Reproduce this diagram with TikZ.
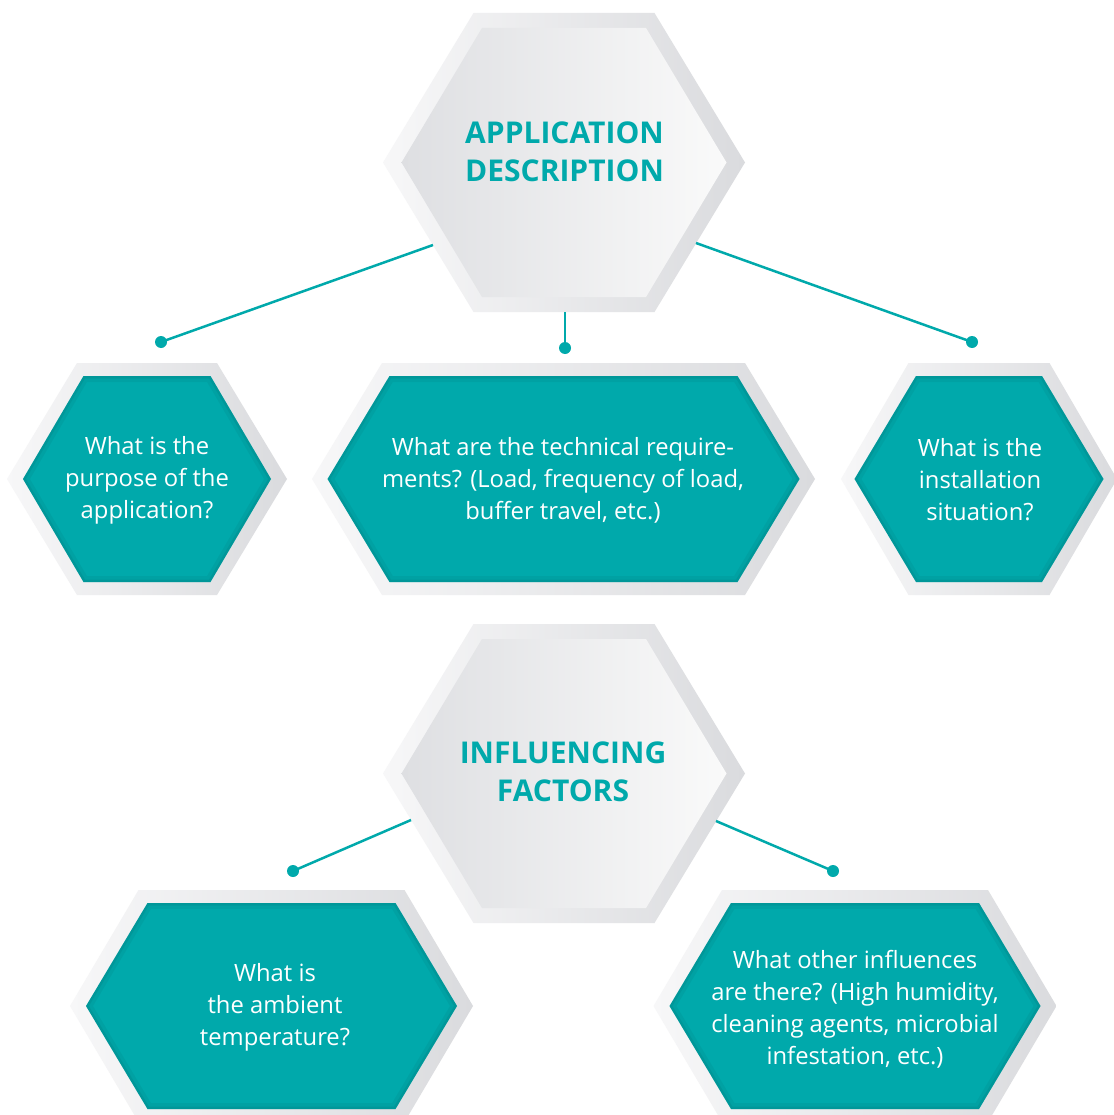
\documentclass[tikz,border=0pt]{standalone}
\usepackage{fontspec}
\setmainfont{Open Sans}
\definecolor{teal1}{RGB}{0,169,171}
\definecolor{tealdk}{RGB}{0,100,102}
\definecolor{frameL}{RGB}{247,247,248}
\definecolor{frameR}{RGB}{218,219,222}
\definecolor{innerL}{RGB}{222,223,226}
\definecolor{innerR}{RGB}{250,250,250}
\newcommand\hexp[5]{({#1-#3},#2) -- ({#1-#4},{#2-#5}) -- ({#1+#4},{#2-#5}) -- ({#1+#3},#2) -- ({#1+#4},{#2+#5}) -- ({#1-#4},{#2+#5}) -- cycle}
\newcommand\grayhex[2]{%
  \shade[left color=frameL,right color=frameR] \hexp{#1}{#2}{181}{90.5}{149.5};
  \shade[left color=innerL,right color=innerR] \hexp{#1}{#2}{162.5}{82}{134.5};
}
\newcommand\tealhex[6]{%
  \shade[left color=frameL,right color=frameR] \hexp{#1}{#2}{#3}{#4}{116};
  \fill[teal1] \hexp{#1}{#2}{#5}{#6}{103};
  \begin{scope}
    \clip \hexp{#1}{#2}{#5}{#6}{103};
    \draw[tealdk, line width=12pt, opacity=0.10] \hexp{#1}{#2}{#5}{#6}{103};
    \draw[tealdk, line width=5pt, opacity=0.15] \hexp{#1}{#2}{#5}{#6}{103};
  \end{scope}
}
\tikzset{
  conn/.style={draw=teal1, line width=2.5pt},
  dotnode/.style={circle, fill=teal1, inner sep=0pt, minimum size=12pt},
  title/.style={font=\bfseries\fontsize{30}{38.5}\selectfont, text=teal1, align=center, inner sep=0pt},
  body/.style={font=\fontsize{23.8}{32}\selectfont, text=white, align=center, inner sep=0pt}
}
\begin{document}
\begin{tikzpicture}[x=1pt,y=-1pt]
\useasboundingbox[fill=white] (0,0) rectangle (1113,1115);
% hexagons
\grayhex{564}{162.5}
\grayhex{564}{773.5}
\tealhex{147}{479}{140}{70}{124}{63.5}
\tealhex{563.5}{479}{251.5}{181.5}{236}{174}
\tealhex{979}{479}{138}{70.5}{124.5}{63}
\tealhex{271.5}{1006}{201.5}{133}{185.5}{124}
\tealhex{855}{1006}{201.5}{133}{185.5}{124}
% texts
\node[title] (app) at (564.5,152) {APPLICATION\\DESCRIPTION};
\node[title] (inf) at (563,772) {INFLUENCING\\FACTORS};
\node[body] (q1) at (147,480) {What is the\\purpose of the\\application?};
\node[body] (q2) at (563,480) {What are the technical require-\\ments? (Load, frequency of load,\\buffer travel, etc.)};
\node[body] (q3) at (980,480) {What is the\\installation\\situation?};
\node[body] (q4) at (275,1007) {What is\\the ambient\\temperature?};
\node[body] (q5) at (855,1009) {What other influences\\are there? (High humidity,\\cleaning agents, microbial\\infestation, etc.)};
% connectors
\coordinate (a1) at (433,245);
\coordinate (a2) at (565,312);
\coordinate (a3) at (696,243);
\coordinate (b1) at (411,820);
\coordinate (b2) at (716,821);
\node[dotnode] (d1) at (161,342) {};
\node[dotnode] (d2) at (565,348) {};
\node[dotnode] (d3) at (972,342) {};
\node[dotnode] (e1) at (293,871) {};
\node[dotnode] (e2) at (833,871) {};
\draw[conn] (a1) -- (d1.center);
\draw[conn] (a2) -- (d2.center);
\draw[conn] (a3) -- (d3.center);
\draw[conn] (b1) -- (e1.center);
\draw[conn] (b2) -- (e2.center);
\end{tikzpicture}
\end{document}
